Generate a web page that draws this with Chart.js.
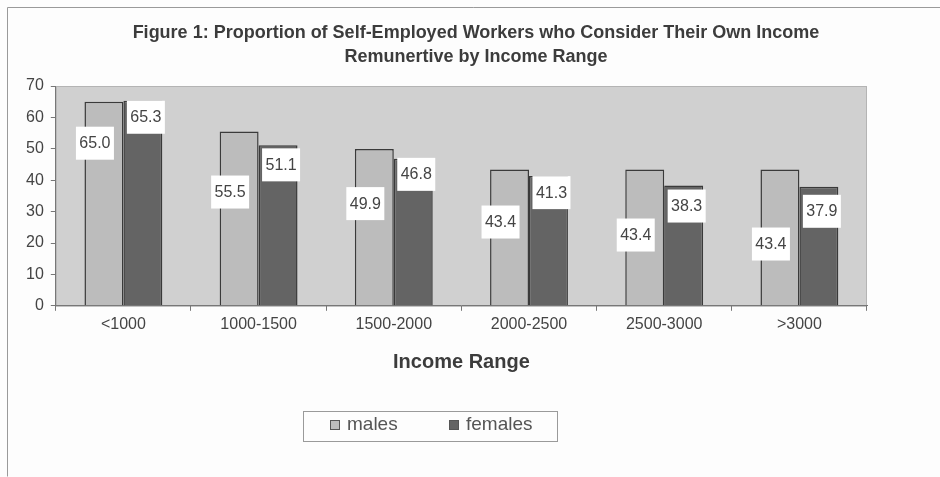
<!DOCTYPE html>
<html>
<head>
<meta charset="utf-8">
<script src="https://cdn.jsdelivr.net/npm/chart.js@4.4.1/dist/chart.umd.min.js"></script>
<style>
  html, body { margin: 0; padding: 0; background: #fff; }
  #wrap { width: 940px; height: 477px; position: relative; }
</style>
</head>
<body>
<div id="wrap"><canvas id="chart"></canvas></div>
<script>
// values
const incomeRanges = ['<1000', '1000-1500', '1500-2000', '2000-2500', '2500-3000', '>3000'];
const males = [65.0, 55.5, 49.9, 43.4, 43.4, 43.4];
const females = [65.3, 51.1, 46.8, 41.3, 38.3, 37.9];
const yTicks = [0, 10, 20, 30, 40, 50, 60, 70];

const titleLines = [
  'Figure 1: Proportion of Self-Employed Workers who Consider Their Own Income',
  'Remunertive by Income Range'
];

const FONT = '"Liberation Sans", Arial, sans-serif';

// frame, plot background, title
const backdrop = {
  id: 'backdrop',
  beforeDraw(chart) {
    const { ctx, chartArea: a } = chart;
    ctx.save();
    ctx.fillStyle = '#fdfdfd';
    ctx.fillRect(0, 0, chart.width, chart.height);
    ctx.strokeStyle = '#9a9a9a';
    ctx.lineWidth = 1;
    ctx.beginPath();
    ctx.moveTo(7.5, 476.5);
    ctx.lineTo(7.5, 7.5);
    ctx.lineTo(chart.width, 7.5);
    ctx.stroke();
    ctx.fillStyle = '#d0d0d0';
    ctx.fillRect(a.left, a.top, a.right - a.left, a.bottom - a.top);
    ctx.strokeStyle = '#b4b4b4';
    ctx.strokeRect(a.left + 0.5, a.top + 0.5, a.right - a.left - 1, a.bottom - a.top);
    ctx.fillStyle = '#3c3c3c';
    ctx.font = 'bold 18px ' + FONT;
    ctx.textAlign = 'center';
    ctx.textBaseline = 'middle';
    ctx.fillText(titleLines[0], 476, 33);
    ctx.fillText(titleLines[1], 476, 57);
    ctx.restore();
  }
};

// white boxes with the values, placed like the original
const valueBoxes = {
  id: 'valueBoxes',
  afterDatasetsDraw(chart, args, opts) {
    const { ctx } = chart;
    ctx.save();
    ctx.font = '16px ' + FONT;
    ctx.textAlign = 'center';
    ctx.textBaseline = 'middle';
    chart.data.datasets.forEach((ds, di) => {
      const meta = chart.getDatasetMeta(di);
      meta.data.forEach((bar, i) => {
        const cx = bar.x + opts.dx[di];
        const cy = bar.y + opts.dy[di][i];
        ctx.fillStyle = '#ffffff';
        ctx.fillRect(cx - 19, cy - 16, 38, 33);
        ctx.fillStyle = '#444';
        ctx.fillText(ds.data[i].toFixed(1), cx, cy + 1);
      });
    });
    ctx.restore();
  }
};

// boxed legend under the axis title
const boxLegend = {
  id: 'boxLegend',
  afterDraw(chart) {
    const { ctx } = chart;
    ctx.save();
    ctx.strokeStyle = '#9a9a9a';
    ctx.lineWidth = 1;
    ctx.strokeRect(303.5, 411.5, 254, 30);
    ctx.font = '19px ' + FONT;
    ctx.textBaseline = 'middle';
    const xs = [330, 449];
    chart.data.datasets.forEach((ds, i) => {
      ctx.fillStyle = ds.backgroundColor;
      ctx.fillRect(xs[i], 420, 10, 10);
      ctx.strokeStyle = '#555';
      ctx.strokeRect(xs[i] + 0.5, 420.5, 9, 9);
      ctx.fillStyle = '#555';
      ctx.fillText(ds.label, xs[i] + 17, 425);
    });
    ctx.restore();
  }
};

new Chart(document.getElementById('chart'), {
  type: 'bar',
  data: {
    labels: incomeRanges,
    datasets: [
      {
        label: 'males',
        data: males,
        backgroundColor: '#bcbcbc',
        borderColor: '#3a3a3a',
        borderWidth: 1.5,
        categoryPercentage: 0.576,
        barPercentage: 1
      },
      {
        label: 'females',
        data: females,
        backgroundColor: '#646464',
        borderColor: '#3a3a3a',
        borderWidth: 1.5,
        categoryPercentage: 0.576,
        barPercentage: 1
      }
    ]
  },
  options: {
    responsive: true,
    maintainAspectRatio: false,
    animation: false,
    layout: { padding: { left: 19, right: 73, top: 86, bottom: 103 } },
    plugins: {
      legend: { display: false },
      title: { display: false },
      tooltip: { enabled: false },
      valueBoxes: {
        dx: [-9, 3],
        dy: [
          [41, 60, 54, 52, 65, 74],
          [16, 19, 15, 16, 20, 24]
        ]
      }
    },
    scales: {
      x: {
        grid: { drawOnChartArea: false, tickLength: 5, color: '#777' },
        border: { color: '#777' },
        ticks: { color: '#444', font: { family: FONT, size: 16 }, padding: 4 },
        title: {
          display: true,
          text: 'Income Range',
          color: '#3c3c3c',
          font: { family: FONT, size: 20, weight: 'bold' },
          padding: { top: 12, bottom: 0 }
        }
      },
      y: {
        min: 0,
        max: 70,
        afterBuildTicks(scale) {
          scale.ticks = yTicks.map(v => ({ value: v }));
        },
        grid: { drawOnChartArea: false, tickLength: 5, color: '#777' },
        border: { color: '#777' },
        ticks: { color: '#444', font: { family: FONT, size: 16 }, padding: 7 }
      }
    }
  },
  plugins: [backdrop, valueBoxes, boxLegend]
});
</script>
</body>
</html>
